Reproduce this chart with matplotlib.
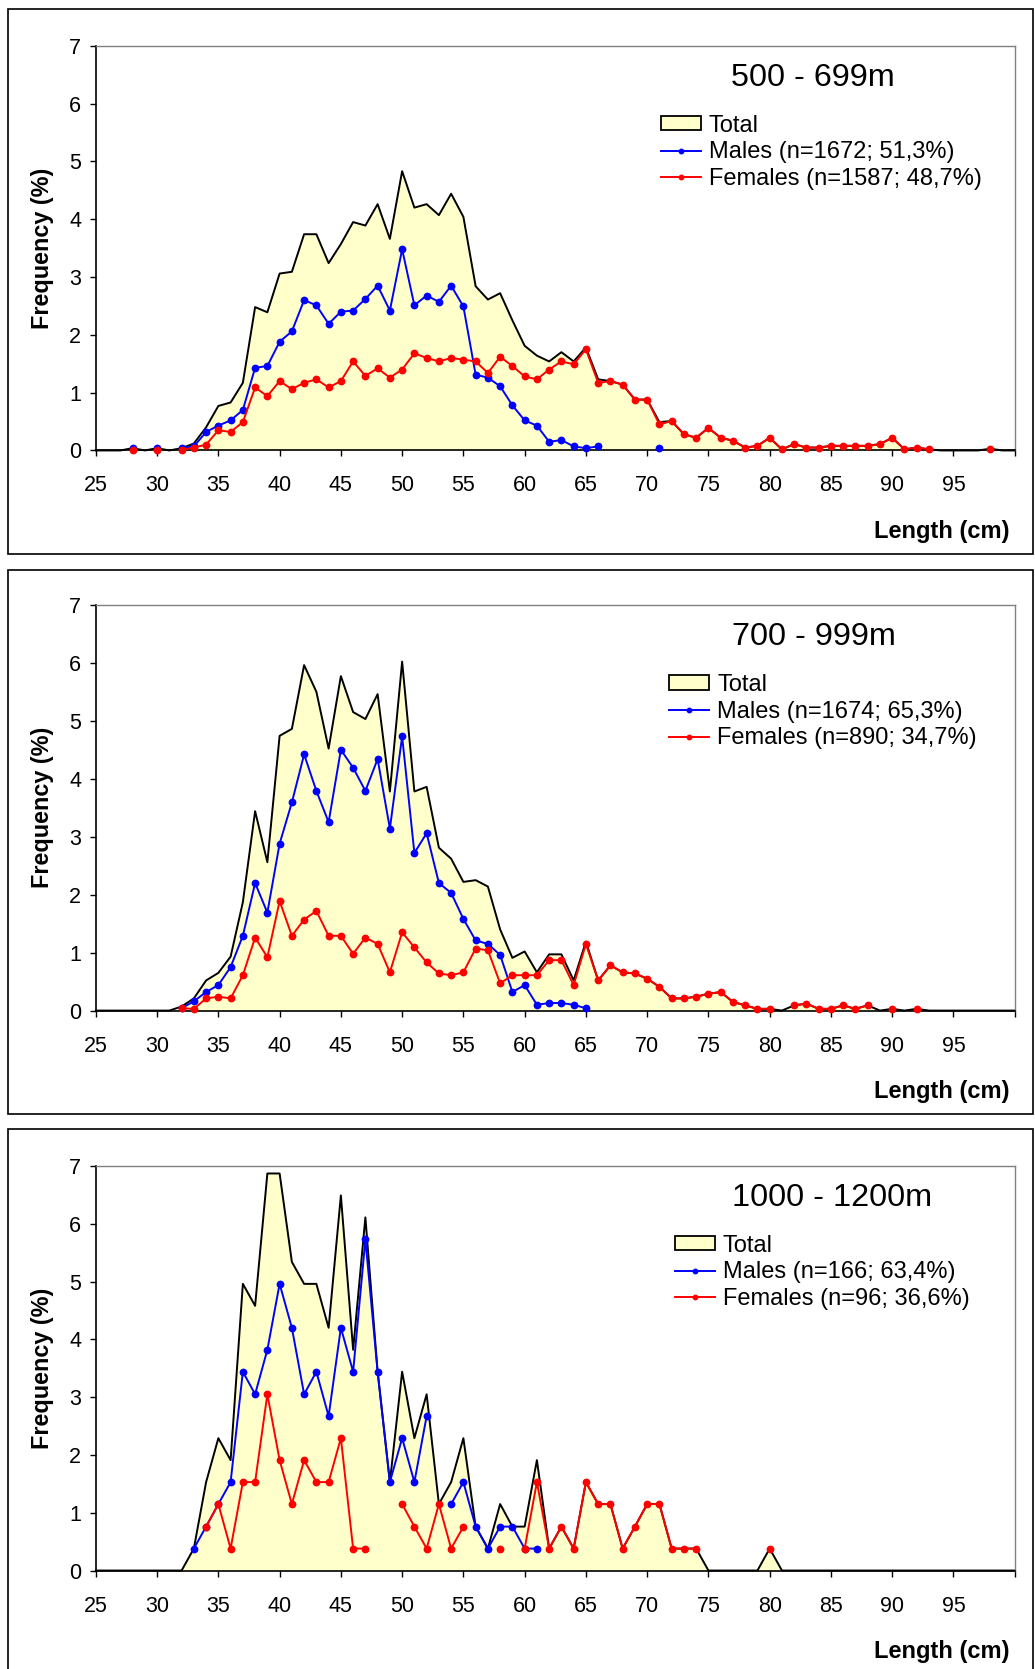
import numpy as np
import matplotlib
matplotlib.use("Agg")
import matplotlib.pyplot as plt
from matplotlib.patches import Rectangle, Patch
from matplotlib.lines import Line2D

plt.rcParams['font.family'] = ['Liberation Sans', 'DejaVu Sans']

nan = np.nan

# ---- 500 - 699m ----
tot1_start = 25
tot1 = [0, 0, 0, 0.04, 0, 0.04, 0, 0.04, 0.12, 0.40,
        0.77, 0.83, 1.17, 2.48, 2.39, 3.06, 3.09, 3.74, 3.74, 3.24,
        3.57, 3.95, 3.89, 4.26, 3.66, 4.83, 4.20, 4.26, 4.07, 4.44,
        4.04, 2.84, 2.61, 2.72, 2.25, 1.81, 1.64, 1.54, 1.70, 1.54,
        1.78, 1.23, 1.20, 1.14, 0.88, 0.88, 0.49, 0.51, 0.28, 0.22,
        0.39, 0.22, 0.17, 0.05, 0.08, 0.22, 0.02, 0.11, 0.05, 0.05,
        0.08, 0.08, 0.08, 0.08, 0.11, 0.22, 0.02, 0.05, 0.02, 0,
        0, 0, 0, 0.03, 0, 0]
male1_start = 28
male1 = [0.04, nan, 0.04, nan, 0.04, 0.07, 0.32, 0.43, 0.52, 0.70,
         1.43, 1.46, 1.88, 2.06, 2.60, 2.51, 2.19, 2.40, 2.42, 2.62,
         2.85, 2.42, 3.48, 2.51, 2.68, 2.57, 2.85, 2.49, 1.31, 1.26,
         1.11, 0.78, 0.52, 0.43, 0.15, 0.18, 0.07, 0.04, 0.07, nan,
         nan, nan, nan, 0.04]
fem1_start = 28
fem1 = [0.01, nan, 0.01, nan, 0.01, 0.05, 0.10, 0.35, 0.32, 0.49,
        1.09, 0.94, 1.20, 1.06, 1.17, 1.23, 1.09, 1.20, 1.54, 1.29,
        1.42, 1.26, 1.40, 1.68, 1.60, 1.54, 1.60, 1.57, 1.54, 1.34,
        1.62, 1.46, 1.28, 1.23, 1.40, 1.54, 1.49, 1.75, 1.17, 1.20,
        1.14, 0.88, 0.88, 0.45, 0.51, 0.28, 0.22, 0.39, 0.22, 0.17,
        0.05, 0.08, 0.22, 0.02, 0.11, 0.05, 0.05, 0.08, 0.08, 0.08,
        0.08, 0.11, 0.22, 0.02, 0.05, 0.02, nan, nan, nan, nan,
        0.03]

# ---- 700 - 999m ----
tot2_start = 25
tot2 = [0, 0, 0, 0, 0, 0, 0, 0.07, 0.21, 0.52,
        0.65, 0.93, 1.87, 3.44, 2.56, 4.74, 4.86, 5.96, 5.50, 4.52,
        5.77, 5.15, 5.03, 5.46, 3.78, 6.02, 3.78, 3.86, 2.81, 2.62,
        2.22, 2.25, 2.14, 1.40, 0.91, 1.02, 0.66, 0.97, 0.97, 0.52,
        1.19, 0.52, 0.78, 0.66, 0.64, 0.55, 0.41, 0.21, 0.21, 0.24,
        0.29, 0.32, 0.15, 0.09, 0.03, 0.03, 0, 0.09, 0.12, 0.03,
        0.03, 0.09, 0.03, 0.09, 0, 0.03, 0, 0.03, 0, 0,
        0, 0, 0, 0, 0, 0]
male2_start = 32
male2 = [0.04, 0.16, 0.32, 0.44, 0.75, 1.29, 2.20, 1.69, 2.88, 3.59,
         4.42, 3.79, 3.25, 4.50, 4.19, 3.79, 4.34, 3.14, 4.73, 2.72,
         3.06, 2.20, 2.03, 1.58, 1.21, 1.15, 0.96, 0.32, 0.44, 0.10,
         0.13, 0.13, 0.10, 0.04]
fem2_start = 32
fem2 = [0.04, 0.03, 0.21, 0.24, 0.21, 0.61, 1.26, 0.92, 1.89, 1.29,
        1.57, 1.72, 1.29, 1.29, 0.98, 1.26, 1.15, 0.66, 1.35, 1.09,
        0.83, 0.64, 0.61, 0.66, 1.07, 1.04, 0.47, 0.61, 0.61, 0.61,
        0.87, 0.87, 0.44, 1.15, 0.52, 0.78, 0.66, 0.64, 0.55, 0.41,
        0.21, 0.21, 0.24, 0.29, 0.32, 0.15, 0.09, 0.03, 0.03, nan,
        0.09, 0.12, 0.03, 0.03, 0.09, 0.03, 0.09, nan, 0.03, nan,
        0.03]

# ---- 1000 - 1200m ----
tot3_start = 25
tot3 = [0, 0, 0, 0, 0, 0, 0, 0, 0.38, 1.53,
        2.29, 1.91, 4.96, 4.58, 6.87, 6.87, 5.34, 4.96, 4.96, 4.20,
        6.49, 3.82, 6.11, 3.44, 1.53, 3.44, 2.29, 3.05, 1.15, 1.53,
        2.29, 0.76, 0.38, 1.15, 0.76, 0.76, 1.91, 0.38, 0.76, 0.38,
        1.53, 1.15, 1.15, 0.38, 0.76, 1.15, 1.15, 0.38, 0.38, 0.38,
        0, 0, 0, 0, 0, 0.38, 0, 0, 0, 0,
        0, 0, 0, 0, 0, 0, 0, 0, 0, 0,
        0, 0, 0, 0, 0, 0]
male3_start = 33
male3 = [0.38, 0.76, 1.15, 1.53, 3.44, 3.05, 3.82, 4.96, 4.20, 3.05,
         3.44, 2.67, 4.20, 3.44, 5.73, 3.44, 1.53, 2.29, 1.53, 2.67,
         nan, 1.15, 1.53, 0.76, 0.38, 0.76, 0.76, 0.38, 0.38]
fem3_start = 34
fem3 = [0.76, 1.15, 0.38, 1.53, 1.53, 3.05, 1.91, 1.15, 1.91, 1.53,
        1.53, 2.29, 0.38, 0.38, nan, nan, 1.15, 0.76, 0.38, 1.15,
        0.38, 0.76, nan, nan, 0.38, nan, 0.38, 1.53, 0.38, 0.76,
        0.38, 1.53, 1.15, 1.15, 0.38, 0.76, 1.15, 1.15, 0.38, 0.38,
        0.38, nan, nan, nan, nan, nan, 0.38]

titles = ['500 - 699m', '700 - 999m', '1000 - 1200m']
male_labels = ['Males (n=1672; 51,3%)', 'Males (n=1674; 65,3%)', 'Males (n=166; 63,4%)']
fem_labels = ['Females (n=1587; 48,7%)', 'Females (n=890; 34,7%)', 'Females (n=96; 36,6%)']
xticks = list(range(25, 101, 5))
xticklabels = [str(t) for t in xticks[:-1]] + ['']


def xy(start, vals):
    y = np.array(vals, dtype=float)
    return np.arange(start, start + len(y)), y


panels = [
    (tot1_start, tot1, male1_start, male1, fem1_start, fem1),
    (tot2_start, tot2, male2_start, male2, fem2_start, fem2),
    (tot3_start, tot3, male3_start, male3, fem3_start, fem3),
]

# layout (figure fractions)
ax_bottoms = [0.7301, 0.3945, 0.0590]
ax_heights = [0.2425, 0.2431, 0.2424]
frames = [(0.6681, 0.3268), (0.3327, 0.3260), (-0.01, 0.3337)]
title_x = [0.7805, 0.781, 0.801]
legend_x = [0.615, 0.624, 0.630]

fig = plt.figure(figsize=(10.35, 16.69), dpi=100)
fs = 15.5
fs_leg = 17

for i, (ts, tv, ms, mv, fst, fv) in enumerate(panels):
    y0, h = frames[i]
    fig.patches.append(Rectangle((0.0082, y0), 0.9899, h, transform=fig.transFigure,
                                 fill=False, ec='black', lw=1.2))

    ax = fig.add_axes([0.0926, ax_bottoms[i], 0.8878, ax_heights[i]])
    xt, yt = xy(ts, tv)
    xm, ym = xy(ms, mv)
    xf, yf = xy(fst, fv)

    ax.fill_between(xt, yt, 0, color='#FFFFCC', lw=0, zorder=1)
    ax.plot(xt, yt, color='black', lw=1.4, zorder=2, clip_on=False)
    ax.plot(xm, ym, color='#0000FF', lw=1.4, marker='o', ms=4.6, zorder=3, clip_on=False)
    ax.plot(xf, yf, color='#FF0000', lw=1.4, marker='o', ms=4.6, zorder=4, clip_on=False)

    ax.set_xlim(25, 100)
    ax.set_ylim(0, 7)
    ax.set_xticks(xticks)
    ax.set_xticklabels(xticklabels)
    ax.set_yticks(range(0, 8))
    ax.tick_params(axis='x', direction='out', length=4.5, width=1, labelsize=fs, pad=13.5)
    ax.tick_params(axis='y', direction='out', length=4.5, width=1, labelsize=fs, pad=6)
    for side in ['top', 'right']:
        ax.spines[side].set_color('#808080')
        ax.spines[side].set_linewidth(1)
    for side in ['left', 'bottom']:
        ax.spines[side].set_color('black')
        ax.spines[side].set_linewidth(1.2)

    ax.text(title_x[i], 0.921, titles[i], transform=ax.transAxes,
            ha='center', va='center', fontsize=23.3)
    ax.text(-0.058, 0.5, 'Frequency (%)', transform=ax.transAxes, rotation=90,
            ha='center', va='center', fontsize=16.8, fontweight='bold')
    ax.text(0.994, -0.20, 'Length (cm)', transform=ax.transAxes,
            ha='right', va='center', fontsize=17, fontweight='bold')

    handles = [Patch(facecolor='#FFFFCC', edgecolor='black', lw=1.3),
               Line2D([], [], color='#0000FF', lw=1.4, marker='o', ms=3.2),
               Line2D([], [], color='#FF0000', lw=1.4, marker='o', ms=3.2)]
    ax.legend(handles, ['Total', male_labels[i], fem_labels[i]],
              loc='upper left', bbox_to_anchor=(legend_x[i], 0.830),
              frameon=False, fontsize=fs_leg, borderpad=0, borderaxespad=0,
              handlelength=1.7, handleheight=0.55, handletextpad=0.33,
              labelspacing=0.2)

fig.savefig('out.png', dpi=100)
